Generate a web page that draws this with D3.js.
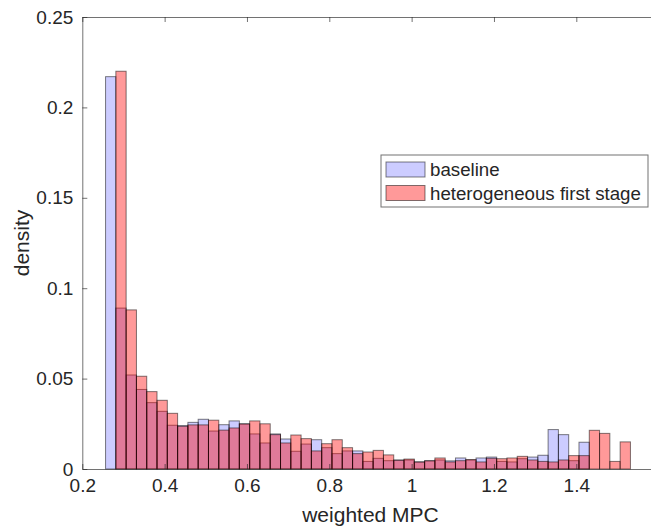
<!DOCTYPE html>
<html>
<head>
<meta charset="utf-8">
<script src="https://cdn.jsdelivr.net/npm/d3@7"></script>
<style>
  html, body { margin: 0; padding: 0; background: #fff; }
  svg { display: block; }
  text { font-family: "Liberation Sans", Arial, Helvetica, sans-serif; fill: #262626; }
</style>
</head>
<body>
<svg id="chart" width="651" height="529"></svg>
<script>
// Histogram bins: left edge of the first bin and common bin width
const binStart = 0.2565;
const binWidth = 0.025;

// Probability per bin for each run
const baseline = [
  0.217, 0.089, 0.052, 0.044, 0.0367, 0.0319, 0.0242, 0.0240, 0.0258, 0.0275,
  0.0210, 0.0245, 0.0266, 0.0250, 0.0194, 0.0144, 0.0194, 0.0166, 0.0098, 0.0138,
  0.0162, 0.0118, 0.0085, 0.0100, 0.0100, 0.0042, 0.0059, 0.0046, 0.0050, 0.0050,
  0.0040, 0.0046, 0.0050, 0.0045, 0.0061, 0.0050, 0.0061, 0.0066, 0.0042, 0.0039,
  0.0057, 0.0066, 0.0076, 0.0218, 0.0190, 0.0046, 0.0148, 0, 0, 0, 0
];
const heterogeneous = [
  0, 0.220, 0.088, 0.0513, 0.0428, 0.0380, 0.0308, 0.0236, 0.0244, 0.0244,
  0.0270, 0.0215, 0.0227, 0.0249, 0.0266, 0.0250, 0.0190, 0.0144, 0.0188, 0.0168,
  0.0100, 0.0140, 0.0162, 0.0118, 0.0085, 0.0094, 0.0103, 0.0078, 0.0048, 0.0055,
  0.0038, 0.0045, 0.0061, 0.0039, 0.0046, 0.0052, 0.0039, 0.0059, 0.0057, 0.0061,
  0.0070, 0.0050, 0.0042, 0.0039, 0.0050, 0.0074, 0.0074, 0.0214, 0.0197, 0.0042, 0.0150
];

const seriesNames = ["baseline", "heterogeneous first stage"];
const xTicks = [0.2, 0.4, 0.6, 0.8, 1.0, 1.2, 1.4];
const yTicks = [0, 0.05, 0.1, 0.15, 0.2, 0.25];

const svg = d3.select("#chart");
const plotLeft = 82.3, plotTop = 17, plotBottom = 469;

const x = d3.scaleLinear().domain([0.2, 1.6]).range([plotLeft, plotLeft + 1.4 * 411.67]);
const y = d3.scaleLinear().domain([0, 0.25]).range([plotBottom, plotTop]);

const styles = [
  { fill: "rgb(0,0,255)", op: 0.2 },
  { fill: "rgb(255,0,0)", op: 0.4 }
];

function drawBars(values, st) {
  svg.append("g")
    .selectAll("rect")
    .data(values.map((v, i) => ({ v, i })).filter(d => d.v > 0))
    .join("rect")
    .attr("x", d => x(binStart + d.i * binWidth))
    .attr("width", d => x(binStart + (d.i + 1) * binWidth) - x(binStart + d.i * binWidth))
    .attr("y", d => y(d.v))
    .attr("height", d => y(0) - y(d.v))
    .attr("fill", st.fill)
    .attr("fill-opacity", st.op)
    .attr("stroke", "#000")
    .attr("stroke-opacity", 0.5)
    .attr("stroke-width", 1);
}
drawBars(baseline, styles[0]);
drawBars(heterogeneous, styles[1]);

// Axes with inward ticks, MATLAB-style box (right edge falls outside the view)
const axisColor = "#262626";
const fmt = d => d3.format("~g")(d);

const gx = svg.append("g").attr("transform", `translate(0,${plotBottom})`)
  .call(d3.axisBottom(x).tickValues(xTicks).tickFormat(fmt).tickSizeInner(-5).tickSizeOuter(0).tickPadding(10));
const gxTop = svg.append("g").attr("transform", `translate(0,${plotTop})`)
  .call(d3.axisTop(x).tickValues(xTicks).tickFormat("").tickSizeInner(-5).tickSizeOuter(0));
const gy = svg.append("g").attr("transform", `translate(${plotLeft},0)`)
  .call(d3.axisLeft(y).tickValues(yTicks).tickFormat(fmt).tickSizeInner(-5).tickSizeOuter(0).tickPadding(9));

[gx, gxTop, gy].forEach(g => {
  g.select(".domain").attr("stroke", axisColor).attr("stroke-opacity", 0.65);
  g.selectAll(".tick line").attr("stroke", axisColor).attr("stroke-opacity", 0.65);
  g.selectAll(".tick text").style("font-size", "19px").attr("fill", axisColor);
});

// Axis titles
svg.append("text")
  .attr("x", (x.range()[0] + x.range()[1]) / 2)
  .attr("y", 522)
  .attr("text-anchor", "middle")
  .style("font-size", "21px")
  .text("weighted MPC");

svg.append("text")
  .attr("transform", `translate(29,${(plotTop + plotBottom) / 2}) rotate(-90)`)
  .attr("text-anchor", "middle")
  .style("font-size", "21px")
  .text("density");

// Legend
const lg = svg.append("g");
lg.append("rect")
  .attr("x", 381).attr("y", 155).attr("width", 267).attr("height", 52)
  .attr("fill", "#fff").attr("stroke", axisColor).attr("stroke-opacity", 0.65);
seriesNames.forEach((name, i) => {
  const cy = 169.5 + i * 23.5;
  lg.append("rect")
    .attr("x", 386).attr("y", cy - 7.5).attr("width", 39).attr("height", 15)
    .attr("fill", styles[i].fill).attr("fill-opacity", styles[i].op)
    .attr("stroke", "#000").attr("stroke-opacity", 0.5);
  lg.append("text")
    .attr("x", 430).attr("y", cy + 6.5)
    .style("font-size", "18.7px")
    .text(name);
});
</script>
</body>
</html>
